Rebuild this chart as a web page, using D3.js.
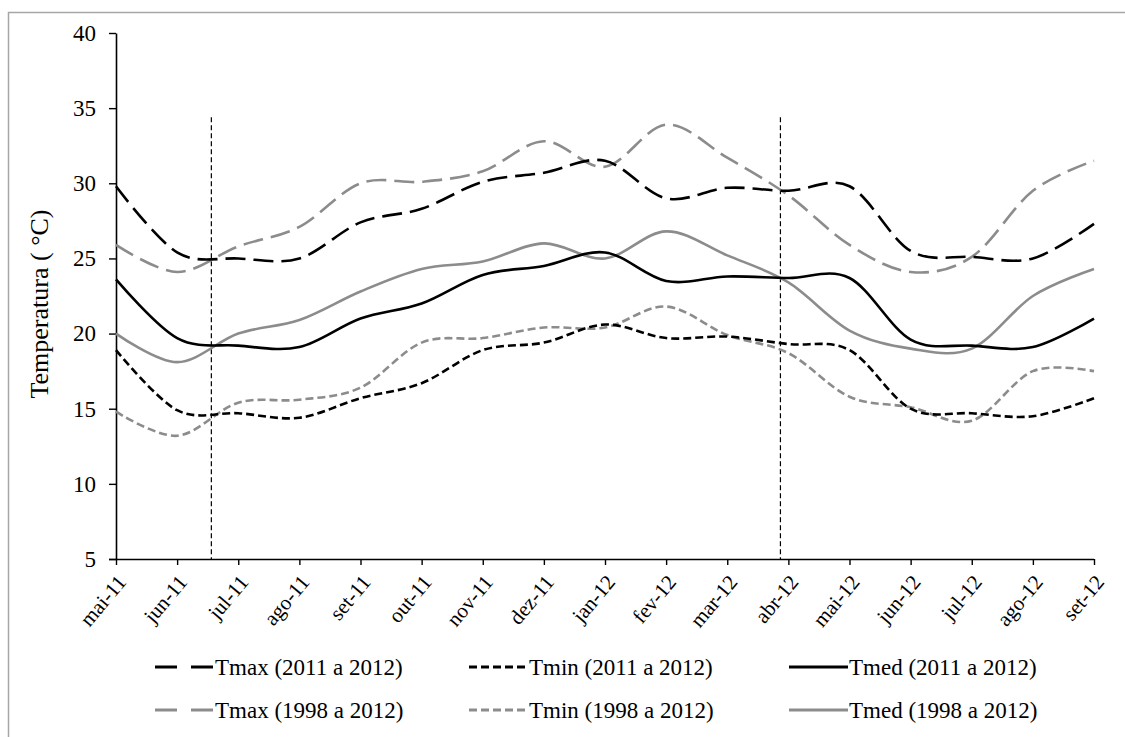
<!DOCTYPE html>
<html>
<head>
<meta charset="utf-8">
<script src="https://cdn.jsdelivr.net/npm/d3@7"></script>
<style>
  html, body { margin: 0; padding: 0; background: #fff; }
  svg { display: block; font-family: "Liberation Serif", "Times New Roman", serif; }
</style>
</head>
<body>
<svg id="chart" width="1125" height="737"></svg>
<script>
// Monthly categories on the x axis
const months = ["mai-11","jun-11","jul-11","ago-11","set-11","out-11","nov-11","dez-11",
                "jan-12","fev-12","mar-12","abr-12","mai-12","jun-12","jul-12","ago-12","set-12"];

// Temperatures (°C) per month
const tmax2011 = [29.8,25.4,25.0,25.0,27.4,28.3,30.1,30.7,31.5,29.0,29.7,29.5,29.8,25.5,25.1,25.0,27.3];
const tmin2011 = [18.9,14.9,14.7,14.4,15.7,16.7,18.9,19.4,20.6,19.7,19.8,19.3,18.9,15.0,14.7,14.5,15.7];
const tmed2011 = [23.6,19.7,19.2,19.1,21.0,22.0,23.9,24.5,25.4,23.5,23.8,23.7,23.7,19.6,19.2,19.1,21.0];
const tmax1998 = [25.9,24.1,25.8,27.1,30.0,30.1,30.8,32.8,31.1,33.9,31.7,29.2,25.9,24.1,25.1,29.5,31.5];
const tmin1998 = [14.8,13.2,15.4,15.6,16.4,19.4,19.7,20.4,20.4,21.8,19.9,18.7,15.8,15.1,14.2,17.5,17.5];
const tmed1998 = [20.0,18.1,20.0,20.9,22.8,24.3,24.8,26.0,25.0,26.8,25.2,23.4,20.2,19.0,19.0,22.5,24.3];

// Y axis ticks
const yTicks = [5,10,15,20,25,30,35,40];

// Vertical reference markers, in month-index units, and their top value
const markerPositions = [1.56, 10.87];
const markerTop = 34.4;

const series = [
  { name: "Tmax (2011 a 2012)", values: tmax2011, color: "#000", dash: "20,8" },
  { name: "Tmin (2011 a 2012)", values: tmin2011, color: "#000", dash: "8,4" },
  { name: "Tmed (2011 a 2012)", values: tmed2011, color: "#000", dash: null },
  { name: "Tmax (1998 a 2012)", values: tmax1998, color: "#8c8c8c", dash: "20,8" },
  { name: "Tmin (1998 a 2012)", values: tmin1998, color: "#8c8c8c", dash: "8,4" },
  { name: "Tmed (1998 a 2012)", values: tmed1998, color: "#8c8c8c", dash: null }
];

const svg = d3.select("#chart");
const margin = { left: 116, top: 33, right: 31, bottom: 178 };
const W = 1125, H = 737;

// Outer frame
svg.append("rect")
  .attr("x", 8.5).attr("y", 12.5)
  .attr("width", 1300).attr("height", 900)
  .attr("fill", "none").attr("stroke", "#a6a6a6").attr("stroke-width", 1.5);

const x = d3.scalePoint().domain(months).range([margin.left, W - margin.right]);
const y = d3.scaleLinear().domain([5, 40]).range([H - margin.bottom, margin.top]);
const xIdx = d3.scaleLinear().domain([0, months.length - 1]).range([margin.left, W - margin.right]);

// Y axis
const yAxis = svg.append("g")
  .attr("transform", `translate(${margin.left},0)`)
  .call(d3.axisLeft(y).tickValues(yTicks).tickSize(7).tickPadding(13).tickSizeOuter(0));
yAxis.select(".domain").attr("stroke", "#000").attr("stroke-width", 1.6);
yAxis.selectAll(".tick line").attr("stroke", "#000").attr("stroke-width", 1.4);
yAxis.selectAll(".tick text")
  .attr("font-family", "Liberation Serif, serif")
  .attr("font-size", 23).attr("fill", "#000");

// X axis
const xAxis = svg.append("g")
  .attr("transform", `translate(0,${H - margin.bottom})`)
  .call(d3.axisBottom(x).tickSize(6).tickSizeOuter(0));
xAxis.select(".domain").attr("stroke", "#000").attr("stroke-width", 1.6)
  .attr("d", `M${margin.left - 7},0.5H${W - margin.right}`);
xAxis.selectAll(".tick line").attr("stroke", "#000").attr("stroke-width", 1.4);
xAxis.selectAll(".tick text")
  .attr("font-family", "Liberation Serif, serif")
  .attr("font-size", 21).attr("fill", "#000")
  .attr("text-anchor", "end")
  .attr("dy", "0.35em")
  .attr("transform", "translate(5,19) rotate(-50)")
  .attr("y", 0).attr("x", 0);

// Vertical reference markers
svg.append("g").selectAll("line")
  .data(markerPositions)
  .join("line")
  .attr("x1", d => xIdx(d)).attr("x2", d => xIdx(d))
  .attr("y1", y(markerTop)).attr("y2", y(5))
  .attr("stroke", "#000").attr("stroke-width", 1.2)
  .attr("stroke-dasharray", "5,3");

// Smoothed series lines
const line = d3.line()
  .x((d, i) => x(months[i]))
  .y(d => y(d))
  .curve(d3.curveCardinal.tension(0));

const drawOrder = [3, 4, 5, 0, 1, 2];
svg.append("g").selectAll("path")
  .data(drawOrder.map(i => series[i]))
  .join("path")
  .attr("d", d => line(d.values))
  .attr("fill", "none")
  .attr("stroke", d => d.color)
  .attr("stroke-width", 2.6)
  .attr("stroke-dasharray", d => d.dash);

// Y axis title
svg.append("text")
  .attr("transform", `translate(48,${304}) rotate(-90)`)
  .attr("text-anchor", "middle")
  .attr("font-size", 26)
  .attr("fill", "#000")
  .text("Temperatura ( °C)");

// Legend: two rows of three entries
const legendCols = [155, 469, 789];
const legendRows = [667, 710];
const legendItems = svg.append("g").selectAll("g")
  .data(series)
  .join("g")
  .attr("transform", (d, i) => `translate(${legendCols[i % 3]},${legendRows[Math.floor(i / 3)]})`);
legendItems.append("line")
  .attr("x1", 0).attr("x2", 59).attr("y1", 0).attr("y2", 0)
  .attr("stroke", d => d.color).attr("stroke-width", 2.8)
  .attr("stroke-dasharray", d => d.dash === "20,8" ? "22,14" : d.dash);
legendItems.append("text")
  .attr("x", 60).attr("y", 0).attr("dy", "0.35em")
  .attr("font-size", 23).attr("fill", "#000")
  .text(d => d.name);
</script>
</body>
</html>
